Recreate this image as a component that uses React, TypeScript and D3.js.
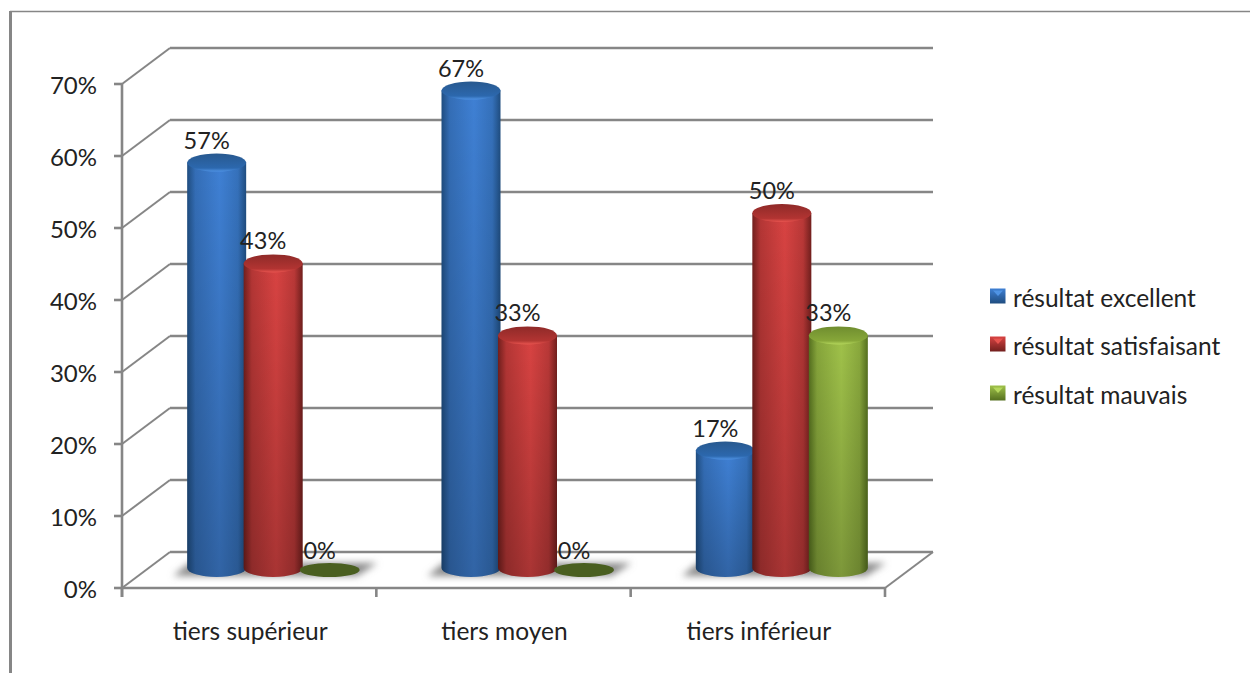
import React from "react";
import * as d3 from "d3";

const categories = ["tiers supérieur", "tiers moyen", "tiers inférieur"];
const seriesNames = ["résultat excellent", "résultat satisfaisant", "résultat mauvais"];
const excellent = [57, 67, 17];
const satisfaisant = [43, 33, 50];
const mauvais = [0, 0, 33];
const seriesValues = [excellent, satisfaisant, mauvais];
const yTicks = [0, 10, 20, 30, 40, 50, 60, 70];

const palettes = [
  { edge: "#1f4d80", mid: "#3f80d4", topA: "#28598f", topB: "#2c68ae", rim: "#4f93e4", flat: "#24507f" },
  { edge: "#721f1d", mid: "#d84342", topA: "#8f2a28", topB: "#b23432", rim: "#e8544f", flat: "#7f2422" },
  { edge: "#55701f", mid: "#a0c24a", topA: "#6f8d2f", topB: "#87a739", rim: "#b5d75c", flat: "#4a5f20" },
];

const W = 1250, H = 673;
const depthX = 48, depthY = -36;
const y = d3.scaleLinear().domain([0, 70]).range([588, 84]);
const x0 = d3.scaleBand<string>().domain(categories).range([122, 885]);
const yBar = d3.scaleLinear().domain([0, 70]).range([573, 69]);
const BASE_Y = 568;
const BAR_STEP = 56.5, RX = 29.5, RY = 9;
const AXIS = "#868686";
const FONT = "Lato, Carlito, sans-serif";
const TEXT = "#222";

const cx = (cat: string, s: number) => x0(cat)! + x0.bandwidth() / 2 + 24 + (s - 1) * BAR_STEP;

function bodyPath(c: number, top: number, bottom: number) {
  return `M${c - RX},${top}L${c - RX},${bottom}A${RX},${RY} 0 0 0 ${c + RX},${bottom}L${c + RX},${top}Z`;
}

export default function App() {
  return (
    <svg width={W} height={H} style={{ position: "absolute", left: 0, top: 0, background: "#fff" }}>
      <defs>
        {palettes.map((p, i) => (
          <React.Fragment key={i}>
            <linearGradient id={`body${i}`} x1="0" x2="1" y1="0" y2="0">
              <stop offset="0" stopColor={p.edge} />
              <stop offset="0.14" stopColor={d3.interpolateRgb(p.edge, p.mid)(0.65)} />
              <stop offset="0.55" stopColor={p.mid} />
              <stop offset="0.86" stopColor={d3.interpolateRgb(p.edge, p.mid)(0.7)} />
              <stop offset="1" stopColor={p.edge} />
            </linearGradient>
            <linearGradient id={`top${i}`} x1="0" x2="0" y1="0" y2="1">
              <stop offset="0" stopColor={p.topA} />
              <stop offset="0.8" stopColor={p.topB} />
              <stop offset="1" stopColor={p.rim} />
            </linearGradient>
            <linearGradient id={`leg${i}`} x1="0" x2="0" y1="0" y2="1">
              <stop offset="0" stopColor={p.mid} />
              <stop offset="1" stopColor={p.edge} />
            </linearGradient>
          </React.Fragment>
        ))}
        <linearGradient id="fade" x1="0" x2="0" y1="0" y2="1">
          <stop offset="0" stopColor="#000" stopOpacity="0" />
          <stop offset="1" stopColor="#000" stopOpacity="0.22" />
        </linearGradient>
        <filter id="blur" x="-20%" y="-60%" width="140%" height="220%">
          <feGaussianBlur stdDeviation="3.5" />
        </filter>
      </defs>

      {/* frame */}
      <line x1={10} x2={W} y1={11.5} y2={11.5} stroke={AXIS} strokeWidth={1.5} />
      <line x1={10.5} x2={10.5} y1={11} y2={H} stroke={AXIS} strokeWidth={3} />

      {/* walls */}
      {yTicks.map((t) => (
        <g key={t} stroke={AXIS} fill="none" strokeWidth={2.6}>
          <line x1={122} y1={y(t)} x2={122 + depthX} y2={y(t) + depthY} strokeWidth={2} />
          <line x1={122 + depthX} y1={y(t) + depthY} x2={885 + depthX} y2={y(t) + depthY} />
          <line x1={114} x2={122} y1={y(t)} y2={y(t)} />
        </g>
      ))}
      <line x1={122} x2={122} y1={y(70)} y2={597} stroke={AXIS} strokeWidth={2.6} />
      <line x1={122} x2={885} y1={y(0)} y2={y(0)} stroke={AXIS} strokeWidth={2.6} />
      <line x1={885} y1={y(0)} x2={885 + depthX} y2={y(0) + depthY} stroke={AXIS} strokeWidth={2} />
      {[...categories.map((c) => x0(c)!), 885].map((tx) => (
        <line key={tx} x1={tx} x2={tx} y1={588} y2={597} stroke={AXIS} strokeWidth={2.6} />
      ))}

      {/* shadows */}
      {categories.map((c) => {
        const l = cx(c, 0) - RX, r = cx(c, 2) + RX;
        return (
          <path
            key={c}
            d={`M${l - 14},576L${l + 2},563L${r + 18},563L${r - 2},576Z`}
            fill="#8a8a8a"
            filter="url(#blur)"
          />
        );
      })}

      {/* cylinders */}
      {categories.map((c, ci) =>
        seriesValues.map((vals, s) => {
          const v = vals[ci];
          const m = cx(c, s);
          const p = palettes[s];
          if (v === 0) {
            return <ellipse key={s} cx={m} cy={yBar(0) - 3} rx={RX + 0.5} ry={7} fill={p.flat} />;
          }
          const top = yBar(v);
          return (
            <g key={s}>
              <path d={bodyPath(m, top, BASE_Y)} fill={`url(#body${s})`} />
              <path d={bodyPath(m, top, BASE_Y)} fill="url(#fade)" />
              <ellipse cx={m} cy={top} rx={RX} ry={RY} fill={`url(#top${s})`} />
            </g>
          );
        })
      )}

      {/* y labels */}
      {yTicks.map((t) => (
        <text key={t} x={97} y={y(t)} textAnchor="end" dominantBaseline="central" fontFamily={FONT} fontSize={24} fill={TEXT}>
          {d3.format("d")(t)}%
        </text>
      ))}

      {/* x labels */}
      {categories.map((c) => (
        <text key={c} x={x0(c)! + x0.bandwidth() / 2 + 1} y={630} textAnchor="middle" dominantBaseline="central" fontFamily={FONT} fontSize={24.5} fill={TEXT}>
          {c}
        </text>
      ))}

      {/* data labels */}
      {categories.map((c, ci) =>
        seriesValues.map((vals, s) => {
          const v = vals[ci];
          return (
            <text
              key={s}
              x={cx(c, s) - 10}
              y={yBar(v) - 23}
              textAnchor="middle"
              dominantBaseline="central"
              fontFamily={FONT}
              fontSize={23.5}
              fill={TEXT}
            >
              {d3.format("d")(v)}%
            </text>
          );
        })
      )}

      {/* legend */}
      {seriesNames.map((n, i) => {
        const ly = [296, 344, 393][i];
        return (
          <g key={n}>
            <rect x={990} y={ly - 7.5} width={15.5} height={15} fill={`url(#leg${i})`} />
            <path d={`M993,${ly - 5.5}L1003,${ly - 5.5}L998,${ly}Z`} fill={palettes[i].rim} />
            <text x={1013} y={ly + 1} dominantBaseline="central" fontFamily={FONT} fontSize={24.5} fill={TEXT}>
              {n}
            </text>
          </g>
        );
      })}
    </svg>
  );
}
